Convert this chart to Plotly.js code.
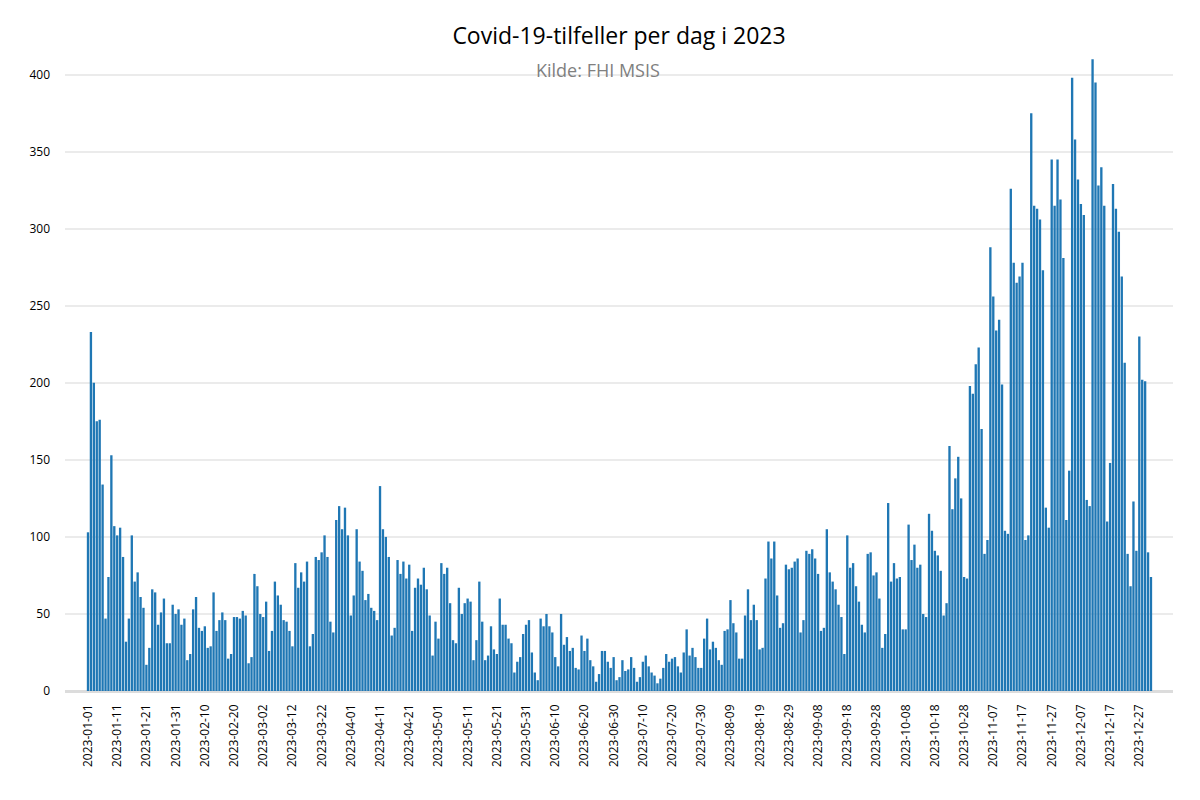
<!DOCTYPE html>
<html>
<head>
<meta charset="utf-8">
<script src="https://cdn.plot.ly/plotly-3.0.1.min.js"></script>
<style>html,body{margin:0;padding:0;background:#fff;}#chart{width:1200px;height:800px;}</style>
</head>
<body>
<div id="chart"></div>
<script>
// Daily Covid-19 cases 2023, one array per month
const jan = [103,233,200,175,176,134,47,74,153,107,101,106,87,32,47,101,71,77,61,54,17,28,66,64,43,51,60,31,31,56,50];
const feb = [53,43,47,20,24,53,61,41,39,42,28,29,64,39,46,51,46,21,24,48,48,47,52,49,18,22,76,68];
const mar = [50,48,58,26,39,71,62,56,46,45,39,29,83,67,77,71,84,29,37,87,85,90,101,87,45,38,111,120,105,119,101];
const apr = [49,62,105,84,78,59,63,54,52,46,133,105,100,87,36,41,85,76,84,73,82,39,67,73,69,80,66,49,23,45];
const may = [34,83,76,80,57,33,31,67,50,57,60,58,20,33,71,45,20,23,42,27,24,60,43,43,34,31,12,19,22,37,43];
const jun = [46,25,12,7,47,42,50,42,38,22,16,50,30,35,26,28,15,14,36,26,34,20,16,6,11,26,26,19,15,22];
const jul = [7,9,20,13,14,22,15,6,9,19,23,16,12,10,5,8,15,24,19,21,22,16,12,25,40,23,28,22,15,15,34];
const aug = [47,27,32,28,20,17,39,40,59,44,38,21,21,49,66,46,56,46,27,28,73,97,86,97,62,41,44,82,79,80,84];
const sep = [86,38,46,91,89,92,86,76,39,41,105,77,71,66,56,48,24,101,80,83,68,58,43,38,89,90,75,77,60,28];
const oct = [37,122,71,83,73,74,40,40,108,85,95,80,82,50,48,115,104,91,88,78,49,57,159,118,138,152,125,74,73,198,193];
const nov = [212,223,170,89,98,288,256,234,241,199,104,102,326,278,265,269,278,98,101,375,315,313,306,273,119,106,345,315,345,319];
const dec = [281,111,143,398,358,332,316,309,124,120,410,395,328,340,315,110,148,329,313,298,269,213,89,68,123,91,230,202,201,90,74];

const months = [jan,feb,mar,apr,may,jun,jul,aug,sep,oct,nov,dec];
const values = [].concat(...months);
const dates = [];
months.forEach((m, mi) => {
  m.forEach((v, di) => {
    const mm = String(mi + 1).padStart(2, '0');
    const dd = String(di + 1).padStart(2, '0');
    dates.push('2023-' + mm + '-' + dd);
  });
});
// Tick labels: every 10th day of the year
const tickDates = dates.filter((d, i) => i % 10 === 0);

const titleText = 'Covid-19-tilfeller per dag i 2023';
const subtitleText = 'Kilde: FHI MSIS';

const trace = {
  type: 'bar',
  x: dates,
  y: values,
  marker: {color: '#1f77b4'},
  hoverinfo: 'x+y'
};

const layout = {
  width: 1200,
  height: 800,
  margin: {l: 65, r: 27, t: 26, b: 109},
  paper_bgcolor: '#ffffff',
  plot_bgcolor: '#ffffff',
  bargap: 0.2,
  showlegend: false,
  title: {
    text: titleText,
    font: {size: 23, color: '#000000'},
    x: 0.5, xref: 'paper', xanchor: 'center',
    y: 0.955, yref: 'container', yanchor: 'middle'
  },
  annotations: [{
    text: subtitleText,
    xref: 'paper', yref: 'paper',
    x: 0.481, y: 0.934,
    xanchor: 'center', yanchor: 'middle',
    showarrow: false,
    font: {size: 18, color: '#808080'}
  }],
  xaxis: {
    type: 'date',
    range: ['2022-12-24 03:00', '2024-01-07 13:00'],
    tickmode: 'array',
    tickvals: tickDates,
    ticktext: tickDates,
    tickangle: -90,
    tickfont: {size: 12, color: '#000000'},
    ticklabelstandoff: 10,
    showgrid: false,
    zeroline: false,
    showline: false,
    ticks: ''
  },
  yaxis: {
    range: [0, 431.6],
    tick0: 0,
    dtick: 50,
    tickfont: {size: 12, color: '#000000'},
    ticklabelstandoff: 14,
    showgrid: true,
    gridcolor: '#ebebeb',
    gridwidth: 2,
    zeroline: true,
    zerolinecolor: '#dcdcdc',
    zerolinewidth: 3,
    showline: false,
    ticks: ''
  }
};

Plotly.newPlot('chart', [trace], layout, {displayModeBar: false, staticPlot: true});
</script>
</body>
</html>
